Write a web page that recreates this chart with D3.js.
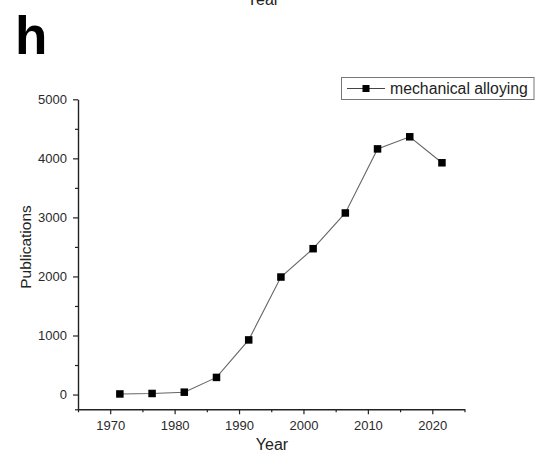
<!DOCTYPE html>
<html>
<head>
<meta charset="utf-8">
<script src="https://cdn.jsdelivr.net/npm/d3@7"></script>
<style>
  html, body { margin: 0; padding: 0; background: #fff; }
  svg { display: block; font-family: "Liberation Sans", Arial, sans-serif; }
</style>
</head>
<body>
<svg id="chart" width="535" height="456"></svg>
<script>
// Publications per five-year period (plotted at period midpoints)
const years = [1971.5, 1976.5, 1981.5, 1986.5, 1991.5, 1996.5, 2001.5, 2006.5, 2011.5, 2016.5, 2021.5];
const publications = [10, 18, 40, 290, 925, 1990, 2470, 3075, 4160, 4365, 3925];
const seriesName = "mechanical alloying";

const xMajorTicks = [1970, 1980, 1990, 2000, 2010, 2020];
const xMinorTicks = [1965, 1975, 1985, 1995, 2005, 2015, 2025];
const yMajorTicks = [0, 1000, 2000, 3000, 4000, 5000];
const yMinorTicks = [-250, 500, 1500, 2500, 3500, 4500];

const svg = d3.select("#chart");

const x = d3.scaleLinear().domain([1965, 2025]).range([78, 464.5]);
const y = d3.scaleLinear().domain([-250, 5000]).range([409.3, 99.3]);

const axisColor = "#222";
const labelColor = "#2a2a2a";

// Partially visible axis title from the panel above
svg.append("text")
  .attr("x", 263).attr("y", 5)
  .attr("text-anchor", "middle")
  .attr("font-size", 16)
  .attr("fill", "#222")
  .text("Year");

// Panel letter
svg.append("text")
  .attr("x", 15).attr("y", 54)
  .attr("font-size", 53)
  .attr("font-weight", "bold")
  .attr("fill", "#000")
  .text("h");

// X axis
const xAxis = svg.append("g").attr("transform", `translate(0,${y(-250)})`);
xAxis.call(d3.axisBottom(x).tickValues(xMajorTicks).tickFormat(d3.format("d")).tickSizeInner(5).tickSizeOuter(0).tickPadding(6));
xAxis.append("g").call(d3.axisBottom(x).tickValues(xMinorTicks).tickFormat("").tickSizeInner(3).tickSizeOuter(0))
  .select(".domain").remove();
xAxis.selectAll("path.domain").attr("stroke", axisColor).attr("stroke-width", 1.4);
xAxis.selectAll("line").attr("stroke", axisColor).attr("stroke-width", 1.2);
xAxis.selectAll("text").attr("font-size", 13).attr("fill", labelColor).attr("font-family", "Liberation Sans, Arial, sans-serif");

// Y axis
const yAxis = svg.append("g").attr("transform", `translate(${x(1965)},0)`);
yAxis.call(d3.axisLeft(y).tickValues(yMajorTicks).tickFormat(d3.format("d")).tickSizeInner(5).tickSizeOuter(0).tickPadding(6));
yAxis.append("g").call(d3.axisLeft(y).tickValues(yMinorTicks).tickFormat("").tickSizeInner(3).tickSizeOuter(0))
  .select(".domain").remove();
yAxis.selectAll("path.domain").attr("stroke", axisColor).attr("stroke-width", 1.4);
yAxis.selectAll("line").attr("stroke", axisColor).attr("stroke-width", 1.2);
yAxis.selectAll("text").attr("font-size", 13).attr("fill", labelColor).attr("font-family", "Liberation Sans, Arial, sans-serif");

// Axis titles
svg.append("text")
  .attr("x", 272).attr("y", 450)
  .attr("text-anchor", "middle")
  .attr("font-size", 16)
  .attr("fill", "#222")
  .text("Year");

svg.append("text")
  .attr("transform", `translate(31,247) rotate(-90)`)
  .attr("text-anchor", "middle")
  .attr("font-size", 15.5)
  .attr("fill", "#222")
  .text("Publications");

// Series line and markers
const data = years.map((yr, i) => ({ year: yr, value: publications[i] }));

svg.append("path")
  .datum(data)
  .attr("fill", "none")
  .attr("stroke", "#666")
  .attr("stroke-width", 1.1)
  .attr("d", d3.line().x(d => x(d.year)).y(d => y(d.value)));

const m = 7.5;
svg.selectAll("rect.marker")
  .data(data)
  .join("rect")
  .attr("class", "marker")
  .attr("x", d => x(d.year) - m / 2)
  .attr("y", d => y(d.value) - m / 2)
  .attr("width", m).attr("height", m)
  .attr("fill", "#000");

// Legend
const legend = svg.append("g");
legend.append("rect")
  .attr("x", 341.5).attr("y", 77.5)
  .attr("width", 192.5).attr("height", 22)
  .attr("fill", "#fff")
  .attr("stroke", "#777")
  .attr("stroke-width", 1);
legend.append("line")
  .attr("x1", 347).attr("x2", 385)
  .attr("y1", 88.5).attr("y2", 88.5)
  .attr("stroke", "#444").attr("stroke-width", 1.1);
legend.append("rect")
  .attr("x", 366 - 3.5).attr("y", 88.5 - 3.5)
  .attr("width", 7).attr("height", 7)
  .attr("fill", "#000");
legend.append("text")
  .attr("x", 390).attr("y", 94)
  .attr("font-size", 15.8)
  .attr("fill", "#222")
  .text(seriesName);
</script>
</body>
</html>
